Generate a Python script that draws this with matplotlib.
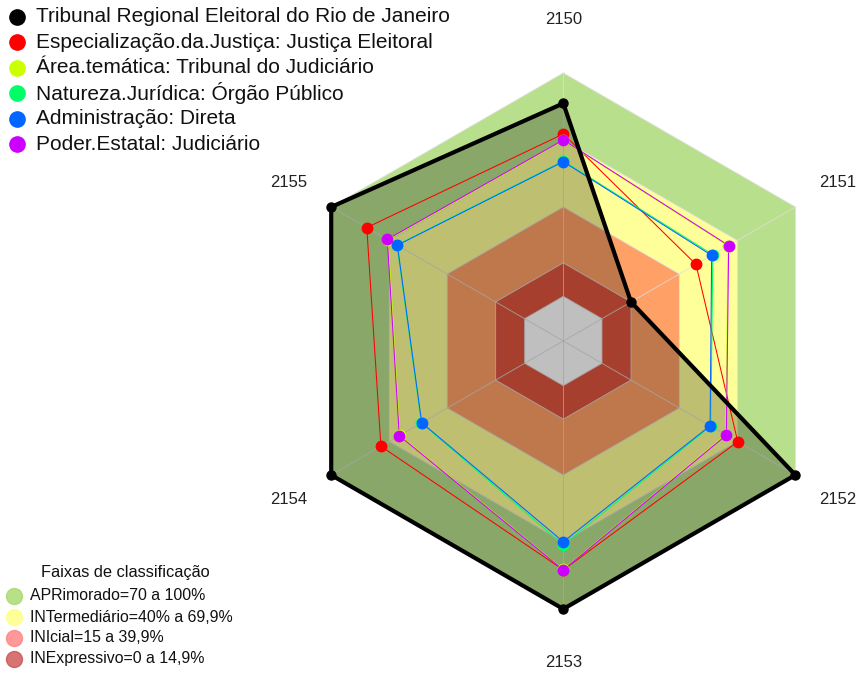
import numpy as np
import matplotlib
matplotlib.use("Agg")
import matplotlib.pyplot as plt
from matplotlib.lines import Line2D

plt.rcParams['font.family'] = ['Liberation Sans', 'DejaVu Sans']

categorias = ['2150', '2151', '2152', '2153', '2154', '2155']

series_nomes = ['Tribunal Regional Eleitoral do Rio de Janeiro',
                'Especialização.da.Justiça: Justiça Eleitoral',
                'Área.temática: Tribunal do Judiciário',
                'Natureza.Jurídica: Órgão Público',
                'Administração: Direta',
                'Poder.Estatal: Judiciário']
series_cores = ['#000000', '#ff0000', '#ccff00', '#00ff66', '#0066ff', '#cc00ff']

trerj = [86.4, 15.0, 100.0, 100.0, 100.0, 100.0]
especializacao = [72.7, 48.6, 70.2, 82.5, 74.3, 81.6]
area_tematica = [69.8, 65.2, 64.0, 82.3, 64.5, 70.6]
natureza = [60.6, 57.3, 56.3, 71.3, 53.4, 66.0]
administracao = [60.3, 56.7, 55.9, 69.9, 53.2, 65.8]
poder = [70.0, 65.5, 64.3, 82.5, 64.8, 71.0]

faixas_nomes = ['APRimorado=70 a 100%', 'INTermediário=40% a 69,9%',
                'INIcial=15 a 39,9%', 'INExpressivo=0 a 14,9%']
faixas_limites = [100, 70, 40, 15, 0]
faixas_cores = ['#b8e08c', '#ffff99', '#ffa066', '#e05540']
faixas_legenda_cores = ['#a6d96a', '#ffff80', '#ff8080', '#cc5050']

RMIN = -20  # eixo radial comeca em -20

ang = np.deg2rad(90 - 60 * np.arange(6))
W, H = 863, 675


def xy(vals):
    r = np.asarray(vals, dtype=float) - RMIN
    x = r * np.cos(ang)
    y = r * np.sin(ang)
    return np.append(x, x[0]), np.append(y, y[0])


def fx(px):
    return px / W


def fy(py):
    return 1 - py / H


fig = plt.figure(figsize=(8.63, 6.75), dpi=100)
lim = 300 / 268 * 120
ax = fig.add_axes([263.3 / W, (H - 641) / H, 600 / W, 600 / H])
ax.set_xlim(-lim, lim)
ax.set_ylim(-lim, lim)
ax.axis('off')

# faixas
for i, cor in enumerate(faixas_cores):
    xo, yo = xy([faixas_limites[i]] * 6)
    xi, yi = xy([faixas_limites[i + 1]] * 6)
    ax.fill(np.concatenate([xo, xi[::-1]]), np.concatenate([yo, yi[::-1]]),
            color=cor, lw=0, zorder=1)

# grade
for v in faixas_limites:
    gx, gy = xy([v] * 6)
    ax.plot(gx, gy, color='#dddddd', lw=0.7, alpha=0.8, zorder=2)
for a in ang:
    ax.plot([0, 120 * np.cos(a)], [0, 120 * np.sin(a)], color='#dddddd', lw=0.7,
            alpha=0.8, zorder=2)

# serie principal
bx, by = xy(trerj)
ax.fill(bx, by, color='black', alpha=0.25, lw=0, zorder=3)

dados = [especializacao, area_tematica, natureza, administracao, poder]
for vals, cor in zip(dados, series_cores[1:]):
    px, py = xy(vals)
    ax.plot(px, py, color=cor, lw=0.75, zorder=4)
    ax.plot(px[:-1], py[:-1], 'o', color=cor, ms=7.5, zorder=5)

ax.plot(bx, by, color='black', lw=3, zorder=6)
ax.plot(bx[:-1], by[:-1], 'o', color='black', ms=6.5, zorder=6)

# rotulos das categorias
for c, a in zip(categorias, ang):
    rr = 144 if abs(np.cos(a)) < 0.1 else 142
    ax.text(rr * np.cos(a), rr * np.sin(a), c, ha='center', va='center',
            fontsize=12, color='#222222', clip_on=False)

# legenda das series
for i, (nome, cor) in enumerate(zip(series_nomes, series_cores)):
    yy = 17 + 25.4 * i
    fig.add_artist(Line2D([fx(17)], [fy(yy)], transform=fig.transFigure,
                          ls='none', marker='o', ms=11, color=cor))
    fig.text(fx(36), fy(yy), nome, fontsize=15, va='center', ha='left', color='#111111')

# legenda das faixas
fig.text(fx(125), fy(572), 'Faixas de classificação', fontsize=11.8,
         ha='center', va='center', color='#111111')
for i, (nome, cor) in enumerate(zip(faixas_nomes, faixas_legenda_cores)):
    yy = 596 + 21 * i
    fig.add_artist(Line2D([fx(14)], [fy(yy)], transform=fig.transFigure,
                          ls='none', marker='o', ms=11.5, color=cor, alpha=0.8))
    fig.text(fx(30), fy(yy), nome, fontsize=11.4, va='center', ha='left', color='#111111')

fig.savefig('out.png', dpi=100)
